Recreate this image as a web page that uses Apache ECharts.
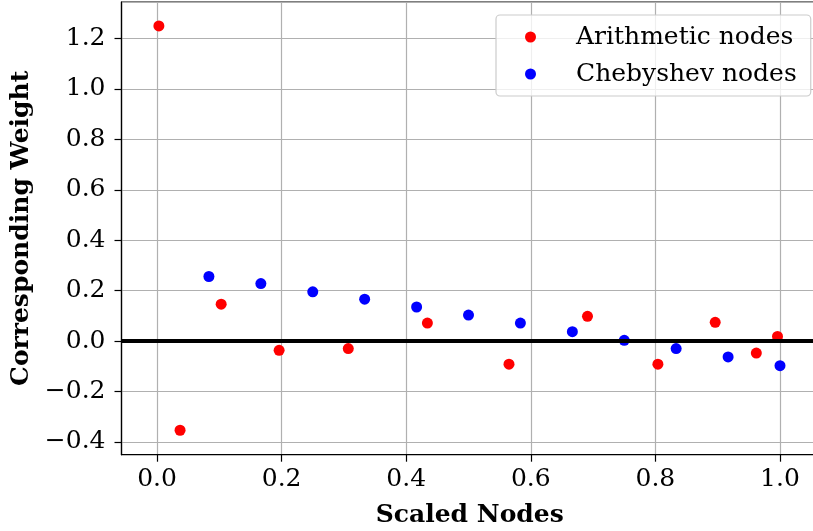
<!DOCTYPE html>
<html><head><meta charset="utf-8">
<script src="https://cdn.jsdelivr.net/npm/echarts@6/dist/echarts.min.js"></script>
<style>html,body{margin:0;padding:0;background:#fff}#c{width:813px;height:531px}</style>
</head><body><div id="c"></div>
<script>
const arithX = [0.003, 0.037, 0.103, 0.196, 0.307, 0.434, 0.565, 0.691, 0.804, 0.896, 0.962, 0.996];
const arithY = [1.250, -0.354, 0.146, -0.037, -0.030, 0.071, -0.092, 0.098, -0.092, 0.074, -0.048, 0.018];
const chebX = [0.0833, 0.1667, 0.25, 0.3333, 0.4167, 0.5, 0.5833, 0.6667, 0.75, 0.8333, 0.9167, 1.0];
const chebY = [0.256, 0.228, 0.195, 0.166, 0.135, 0.103, 0.071, 0.037, 0.003, -0.030, -0.063, -0.098];
const xTicks = [0.0, 0.2, 0.4, 0.6, 0.8, 1.0];
const yTicks = [-0.4, -0.2, 0.0, 0.2, 0.4, 0.6, 0.8, 1.0, 1.2];
const seriesNames = ['Arithmetic nodes', 'Chebyshev nodes'];

const FONT = 'DejaVu Serif';
const chart = echarts.init(document.getElementById('c'), null, {renderer: 'canvas'});
const zip = (a, b) => a.map((v, i) => [v, b[i]]);
const onTick = (list, v) => list.some(t => Math.abs(t - v) < 1e-6);
const fmtFor = list => v => onTick(list, v) ? v.toFixed(1).replace('-', '\u2212') : '';

chart.setOption({
  animation: false,
  backgroundColor: '#fff',
  grid: {left: 121.5, top: 2, right: -5, bottom: 76.3, show: true, borderColor: '#000', borderWidth: 1.2,
    backgroundColor: 'transparent', containLabel: false, outerBoundsMode: 'none'},
  xAxis: {
    type: 'value', min: -0.057, max: 1.061, splitNumber: 6,
    name: 'Scaled Nodes', nameLocation: 'middle', nameGap: 48,
    nameTextStyle: {fontFamily: FONT, fontWeight: 'bold', fontSize: 25, color: '#000'},
    axisLine: {show: true, onZero: false, lineStyle: {color: '#000', width: 1.2}},
    axisTick: {show: true, inside: false, length: 7, lineStyle: {color: '#000', width: 1.2}},
    axisLabel: {show: true, showMinLabel: false, showMaxLabel: false, fontFamily: FONT, fontSize: 25, color: '#000', margin: 12, formatter: fmtFor(xTicks)},
    splitLine: {show: true, lineStyle: {color: '#b0b0b0', width: 1.2}}
  },
  yAxis: {
    type: 'value', min: -0.451, max: 1.345, splitNumber: 9,
    name: 'Corresponding Weight', nameLocation: 'middle', nameGap: 88,
    nameTextStyle: {fontFamily: FONT, fontWeight: 'bold', fontSize: 25, color: '#000'},
    axisLine: {show: true, onZero: false, lineStyle: {color: '#000', width: 1.2}},
    axisTick: {show: true, inside: false, length: 7, lineStyle: {color: '#000', width: 1.2}},
    axisLabel: {show: true, showMinLabel: false, showMaxLabel: false, fontFamily: FONT, fontSize: 25, color: '#000', margin: 16, formatter: fmtFor(yTicks)},
    splitLine: {show: true, lineStyle: {color: '#b0b0b0', width: 1.2}}
  },
  legend: {
    orient: 'vertical', left: 496, top: 15,
    data: seriesNames,
    icon: 'circle', itemWidth: 11, itemHeight: 11, itemGap: 11,
    padding: [9, 14, 9, 29],
    backgroundColor: 'rgba(255,255,255,0.8)', borderColor: '#cccccc', borderWidth: 1.2, borderRadius: 4,
    textStyle: {fontFamily: FONT, fontSize: 25, color: '#000', lineHeight: 26, padding: [0, 0, 0, 35]}
  },
  series: [
    {
      name: seriesNames[0], type: 'scatter', symbolSize: 11,
      itemStyle: {color: '#ff0000', opacity: 1},
      data: zip(arithX, arithY),
      markLine: {silent: true, symbol: ['none', 'none'], label: {show: false},
        lineStyle: {color: '#000', width: 4, type: 'solid'}, data: [{yAxis: 0}]}
    },
    {
      name: seriesNames[1], type: 'scatter', symbolSize: 11,
      itemStyle: {color: '#0000ff', opacity: 1},
      data: zip(chebX, chebY)
    }
  ]
});
</script></body></html>
